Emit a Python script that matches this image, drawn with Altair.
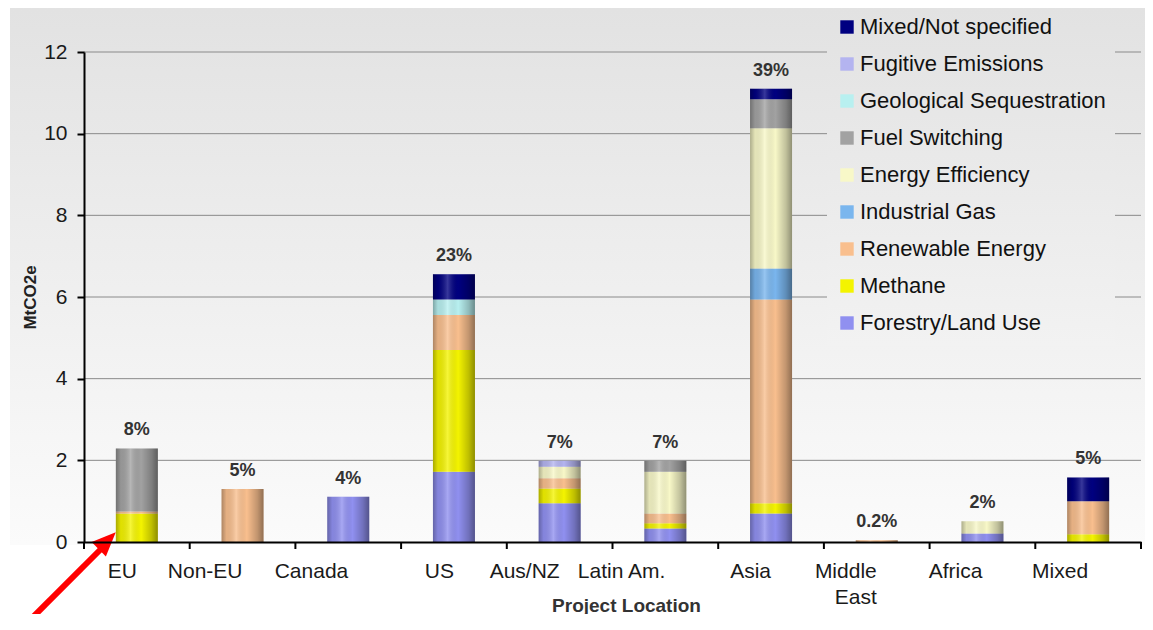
import altair as alt
import pandas as pd

# ---------------- data ----------------
categories = ["EU", "Non-EU", "Canada", "US", "Aus/NZ", "Latin Am.", "Asia",
              "Middle East", "Africa", "Mixed"]
pct_labels = ["8%", "5%", "4%", "23%", "7%", "7%", "39%", "0.2%", "2%", "5%"]

# stack order, bottom -> top
stack_types = ["Forestry/Land Use", "Methane", "Renewable Energy", "Industrial Gas",
               "Energy Efficiency", "Fuel Switching", "Geological Sequestration",
               "Fugitive Emissions", "Mixed/Not specified"]

forestry   = [0.00, 0.00, 1.11, 1.72, 0.95, 0.33, 0.70, 0.00, 0.21, 0.00]
methane    = [0.70, 0.00, 0.00, 2.98, 0.36, 0.13, 0.25, 0.00, 0.00, 0.19]
renewable  = [0.05, 1.30, 0.00, 0.86, 0.25, 0.24, 4.99, 0.04, 0.00, 0.81]
ind_gas    = [0.00, 0.00, 0.00, 0.00, 0.00, 0.00, 0.76, 0.00, 0.00, 0.00]
energy_eff = [0.00, 0.00, 0.00, 0.00, 0.28, 1.02, 3.43, 0.00, 0.30, 0.00]
fuel_sw    = [1.54, 0.00, 0.00, 0.00, 0.00, 0.27, 0.71, 0.00, 0.00, 0.00]
geo_seq    = [0.00, 0.00, 0.00, 0.38, 0.00, 0.00, 0.00, 0.00, 0.00, 0.00]
fugitive   = [0.00, 0.00, 0.00, 0.00, 0.15, 0.00, 0.00, 0.00, 0.00, 0.00]
mixed_ns   = [0.00, 0.00, 0.00, 0.62, 0.00, 0.00, 0.26, 0.00, 0.00, 0.58]

series = [forestry, methane, renewable, ind_gas, energy_eff, fuel_sw, geo_seq, fugitive, mixed_ns]

legend_order = ["Mixed/Not specified", "Fugitive Emissions", "Geological Sequestration",
                "Fuel Switching", "Energy Efficiency", "Industrial Gas",
                "Renewable Energy", "Methane", "Forestry/Land Use"]
legend_colors = ["#000080", "#b4b4f0", "#b8f0f0", "#a2a2a2", "#f8f8c8", "#7ab6ee",
                 "#f9bf8e", "#f4f400", "#9090f0"]

y_ticks = [0, 2, 4, 6, 8, 10, 12]
grid_values = [2, 4, 6, 8, 10, 12]

# ---------------- frames ----------------
rows = []
for ti, (t, vals) in enumerate(zip(stack_types, series)):
    for ci, c in enumerate(categories):
        if vals[ci] > 0:
            rows.append({"loc": c, "type": t, "value": vals[ci], "rank": ti})
df = pd.DataFrame(rows)

totals = [sum(s[i] for s in series) for i in range(len(categories))]
tot_df = pd.DataFrame({"loc": categories, "total": totals, "pct": pct_labels})
grid_df = pd.DataFrame({"g": grid_values})
one = pd.DataFrame({"a": [0]})

W, H = 1057, 490
FONT = "Liberation Sans"

yscale = alt.Scale(domain=[0, 12], nice=False)
xscale = alt.Scale(paddingInner=0, paddingOuter=0)

x_enc = alt.X("loc:N", sort=categories, scale=xscale,
              axis=alt.Axis(title="Project Location", titleFontSize=19, titleFontWeight="bold",
                            titleColor="#333", titleX=542, titleY=63, titleBaseline="middle",
                            titleAlign="center",
                            labelFontSize=21, labelAngle=0, labelColor="#1a1a1a", labelPadding=29,
                            ticks=False, tickSize=0, labelLineHeight=26,
                            labelExpr="datum.label == 'Middle East' ? ['Middle', 'East'] : datum.label",
                            domainColor="black", domainWidth=2, zindex=1))
y_enc = alt.Y("value:Q", stack="zero", scale=yscale,
              axis=alt.Axis(values=y_ticks, title="MtCO2e", titleFontSize=17,
                            titleFontWeight="bold", titleColor="#222", titleX=-54, titleY=H / 2,
                            titleAngle=270, titleAlign="center", titleBaseline="middle",
                            labelFontSize=21, labelColor="#1a1a1a", labelPadding=10,
                            tickSize=7, tickColor="black", tickWidth=2,
                            domainColor="black", domainWidth=2, grid=False, zindex=1))

# background frame gradient
bg = alt.Chart(one).mark_rect(
    color=alt.Gradient(gradient="linear",
                       stops=[alt.GradientStop(color="#e2e2e2", offset=0),
                              alt.GradientStop(color="#fbfbfb", offset=1)],
                       x1=0, x2=0, y1=0, y2=1)
).encode(x=alt.value(-74), x2=alt.value(W + 9), y=alt.value(-44), y2=alt.value(493))

grid = alt.Chart(grid_df).mark_rule(color="#8a8a8a", strokeWidth=1).encode(
    y=alt.Y("g:Q", scale=yscale), x=alt.value(0), x2=alt.value(W))

legend_bg = alt.Chart(one).mark_rect(
    color=alt.Gradient(gradient="linear",
                       stops=[alt.GradientStop(color="#e2e2e2", offset=0),
                              alt.GradientStop(color="#f2f2f2", offset=1)],
                       x1=0, x2=0, y1=0, y2=1)
).encode(x=alt.value(743), x2=alt.value(1031), y=alt.value(-44), y2=alt.value(293))

ticks = alt.Chart(tot_df).mark_rule(color="black", strokeWidth=2).encode(
    x=alt.X("loc:N", sort=categories, scale=xscale, bandPosition=0),
    y=alt.value(H), y2=alt.value(H + 7))
last_tick = alt.Chart(one).mark_rule(color="black", strokeWidth=2).encode(
    x=alt.value(W), y=alt.value(H), y2=alt.value(H + 7))

bars = alt.Chart(df).mark_bar(size=42).encode(
    x=x_enc,
    y=y_enc,
    color=alt.Color("type:N",
                    scale=alt.Scale(domain=legend_order, range=legend_colors),
                    legend=alt.Legend(orient="none", legendX=752, legendY=-36, title=None,
                                      direction="vertical", symbolType="square",
                                      symbolSize=180, symbolStrokeWidth=0,
                                      labelFontSize=22, labelColor="#111", labelFont=FONT,
                                      labelOffset=2, rowPadding=15, padding=0,
                                      labelLimit=400)),
    order=alt.Order("rank:Q", sort="ascending"),
)

shade = alt.Chart(tot_df).mark_bar(
    size=42,
    color=alt.Gradient(gradient="linear",
                       stops=[alt.GradientStop(color="rgba(0,0,0,0.30)", offset=0),
                              alt.GradientStop(color="rgba(0,0,0,0.08)", offset=0.12),
                              alt.GradientStop(color="rgba(255,255,255,0.22)", offset=0.35),
                              alt.GradientStop(color="rgba(0,0,0,0.0)", offset=0.6),
                              alt.GradientStop(color="rgba(0,0,0,0.22)", offset=0.85),
                              alt.GradientStop(color="rgba(0,0,0,0.42)", offset=1)],
                       x1=0, x2=1, y1=0, y2=0)
).encode(x=alt.X("loc:N", sort=categories, scale=xscale),
         y=alt.Y("total:Q", scale=yscale))

labels = alt.Chart(tot_df).mark_text(
    dy=-9, baseline="bottom", fontSize=18, fontWeight="bold", color="#333", font=FONT
).encode(x=alt.X("loc:N", sort=categories, scale=xscale),
         y=alt.Y("total:Q", scale=yscale), text="pct:N")

arrow_shaft = alt.Chart(one).mark_rule(color="#ff0000", strokeWidth=6).encode(
    x=alt.value(-66), y=alt.value(580), x2=alt.value(17), y2=alt.value(497))
arrow_head = alt.Chart(one).mark_point(
    shape="M0.75,-0.75L0.17,0.67L-0.67,-0.17Z", size=1156, filled=True,
    color="#ff0000", opacity=1, strokeWidth=0
).encode(x=alt.value(19), y=alt.value(493))

chart = alt.layer(bg, grid, legend_bg, ticks, last_tick, bars, shade, labels,
                  arrow_shaft, arrow_head).properties(
    width=W, height=H,
    autosize=alt.AutoSizeParams(type="none"),
    padding={"left": 76, "top": 44, "right": 4, "bottom": 72},
).configure(font=FONT, view=alt.ViewConfig(stroke=None))

chart.save("out.html", embed_options={"renderer": "svg", "actions": False})
